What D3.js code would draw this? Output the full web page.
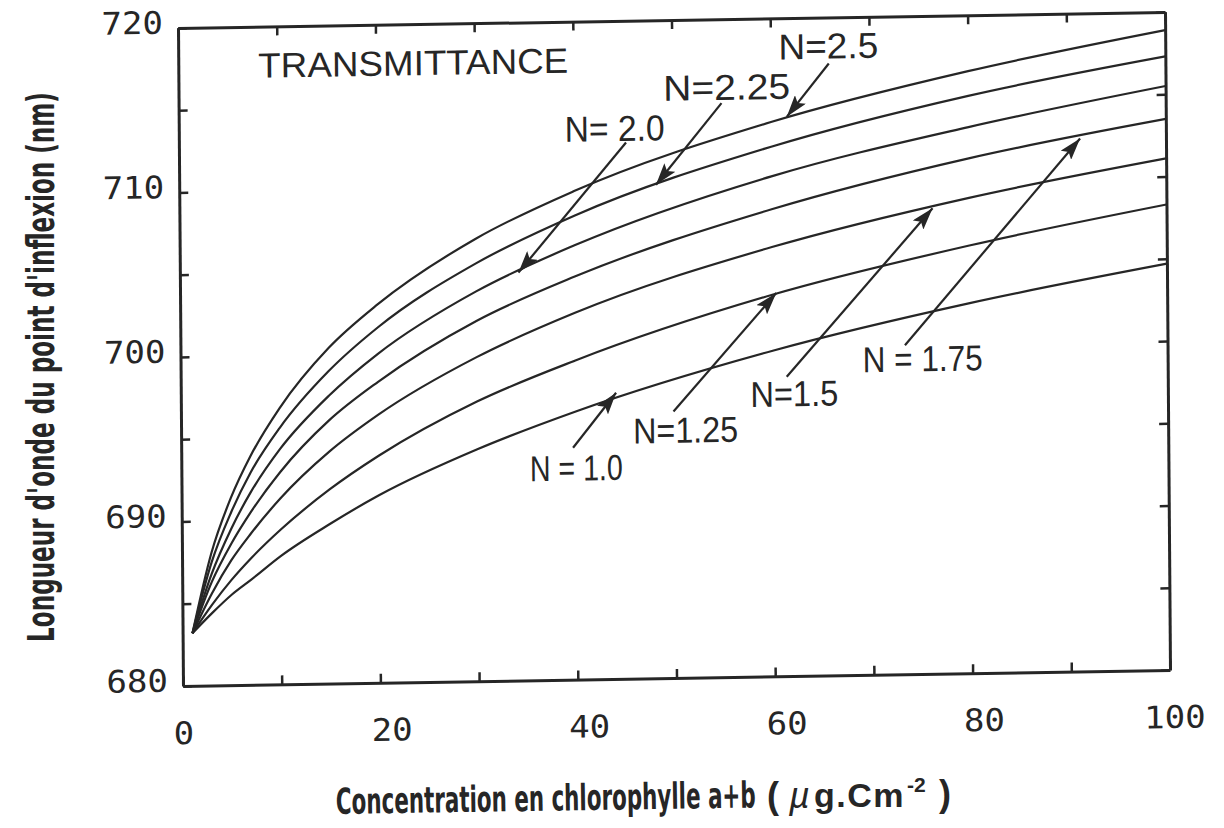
<!DOCTYPE html>
<html><head><meta charset="utf-8">
<script src="https://cdn.jsdelivr.net/npm/d3@7"></script>
<style>body{margin:0;background:#fff;} svg{display:block;background:#fff;}</style>
</head><body><svg id="c" width="1224" height="828"></svg>
<script>
// ---- data ----
const concentration = [1, 3, 5, 7, 10, 15, 20, 30, 40, 60, 80, 100];
const seriesNames = ["N=1.0", "N=1.25", "N=1.5", "N=1.75", "N=2.0", "N=2.25", "N=2.5"];
const wl_N100 = [683.2, 684.4, 685.5, 686.4, 687.8, 689.7, 691.4, 694.1, 696.3, 699.8, 702.5, 704.7];
const wl_N125 = [683.2, 684.9, 686.4, 687.7, 689.4, 691.8, 693.8, 697.0, 699.4, 703.2, 706.0, 708.3];
const wl_N150 = [683.2, 685.6, 687.6, 689.2, 691.3, 694.1, 696.3, 699.7, 702.3, 706.1, 708.9, 711.1];
const wl_N175 = [683.2, 686.3, 688.6, 690.5, 692.9, 696.0, 698.3, 701.9, 704.5, 708.4, 711.3, 713.5];
const wl_N200 = [683.2, 686.8, 689.5, 691.7, 694.3, 697.5, 700.0, 703.7, 706.4, 710.4, 713.2, 715.5];
const wl_N225 = [683.2, 687.5, 690.5, 692.9, 695.6, 699.0, 701.6, 705.4, 708.2, 712.2, 715.1, 717.3];
const wl_N250 = [683.2, 688.1, 691.4, 693.9, 696.8, 700.4, 703.0, 706.9, 709.7, 713.7, 716.6, 718.9];
const allSeries = [wl_N100, wl_N125, wl_N150, wl_N175, wl_N200, wl_N225, wl_N250];

const xTicks = [0, 10, 20, 30, 40, 50, 60, 70, 80, 90, 100];
const xTickLabels = [0, 20, 40, 60, 80, 100];
const yTicks = [680, 685, 690, 695, 700, 705, 710, 715, 720];
const yTickLabels = [680, 690, 700, 710, 720];

// annotation labels and arrows (data coordinates)
const annLabels = ["N=2.5", "N=2.25", "N= 2.0", "N = 1.0", "N=1.25", "N=1.5", "N = 1.75"];
const annTextX  = [60.8, 49.1, 39.1, 35.3, 45.8, 57.7, 69.1];
const annTextY  = [717.5, 715.1, 712.7, 692.1, 694.3, 696.4, 698.4];
const annFromX  = [65.9, 55.0, 45.3, 39.7, 49.9, 61.4, 73.4];
const annFromY  = [717.2, 714.9, 712.6, 694.1, 696.2, 698.2, 700.0];
const annToX    = [61.6, 48.3, 34.3, 44.1, 60.4, 76.3, 91.3];
const annToY    = [714.0, 710.0, 704.8, 697.4, 703.3, 708.3, 712.4];
const annWidth  = [100, 127, 100, 93, 105, 88, 120];

// ---- drawing ----
const W = 987, H = 658;
const ink = "#262626";
const svg = d3.select("#c");
svg.append("defs").append("marker")
  .attr("id", "ah").attr("viewBox", "0 0 10 10").attr("refX", 10).attr("refY", 5)
  .attr("markerWidth", 22).attr("markerHeight", 14).attr("markerUnits", "userSpaceOnUse")
  .attr("preserveAspectRatio", "none").attr("orient", "auto")
  .append("path").attr("d", "M0,0L10,5L0,10L2,5Z").attr("fill", ink);

// slight skew of the scanned figure
const g = svg.append("g").attr("transform", "matrix(1,-0.0162,0.0076,1,183,686)");
const x = d3.scaleLinear().domain([0, 100]).range([0, W]);
const y = d3.scaleLinear().domain([680, 720]).range([0, -H]);

function styleAxis(sel) {
  sel.select(".domain").attr("stroke", ink).attr("stroke-width", 3);
  sel.selectAll(".tick line").attr("stroke", ink).attr("stroke-width", 2.5);
  sel.selectAll(".tick text").attr("fill", ink)
    .style("font-family", "'DejaVu Sans Mono', 'Liberation Mono', monospace")
    .style("font-size", "31px")
    .attr("lengthAdjust", "spacingAndGlyphs")
    .attr("textLength", function () { const t = this.textContent; return t ? t.length * 20.5 : null; });
}

const fmtX = d => xTickLabels.includes(d) ? String(d) : "";
const fmtY = d => yTickLabels.includes(d) ? String(d) : "";

const xb = g.append("g").call(d3.axisBottom(x).tickValues(xTicks).tickSizeInner(-9).tickSizeOuter(0).tickPadding(36).tickFormat(fmtX));
styleAxis(xb);
xb.selectAll(".tick text").attr("dx", d => d === 0 ? 0 : (d === 100 ? 4 : 11));

const xt = g.append("g").attr("transform", `translate(0,${-H})`)
  .call(d3.axisTop(x).tickValues(xTicks).tickSizeInner(-9).tickSizeOuter(0).tickFormat(""));
styleAxis(xt);

const yl = g.append("g").call(d3.axisLeft(y).tickValues(yTicks).tickSizeInner(-9).tickSizeOuter(0).tickPadding(15).tickFormat(fmtY));
styleAxis(yl);
yl.selectAll(".tick text").attr("y", -5);

const yr = g.append("g").attr("transform", `translate(${W},0)`)
  .call(d3.axisRight(y).tickValues(yTicks).tickSizeInner(-9).tickSizeOuter(0).tickFormat(""));
styleAxis(yr);

// curves
const line = d3.line().x((d, i) => x(concentration[i])).y(d => y(d)).curve(d3.curveMonotoneX);
g.append("g").selectAll("path").data(allSeries).join("path")
  .attr("d", line).attr("fill", "none").attr("stroke", ink).attr("stroke-width", 2.2)
  .attr("stroke-linejoin", "round");

// arrows
g.append("g").selectAll("line").data(annLabels).join("line")
  .attr("x1", (d, i) => x(annFromX[i])).attr("y1", (d, i) => y(annFromY[i]))
  .attr("x2", (d, i) => x(annToX[i])).attr("y2", (d, i) => y(annToY[i]))
  .attr("stroke", ink).attr("stroke-width", 2.2).attr("marker-end", "url(#ah)");

// labels
g.append("g").selectAll("text").data(annLabels).join("text")
  .attr("x", (d, i) => x(annTextX[i])).attr("y", (d, i) => y(annTextY[i]))
  .attr("textLength", (d, i) => annWidth[i]).attr("lengthAdjust", "spacingAndGlyphs")
  .attr("fill", ink).style("font-family", "'Liberation Sans', Arial, sans-serif").style("font-size", "36px")
  .text(d => d);

// panel title
g.append("text").attr("x", x(8.1)).attr("y", y(716.9))
  .attr("textLength", 310).attr("lengthAdjust", "spacingAndGlyphs")
  .attr("fill", ink).style("font-family", "'Liberation Sans', Arial, sans-serif").style("font-size", "35px")
  .text("TRANSMITTANCE");

// axis titles (condensed by a horizontal scale so the box is exact)
const condensed = "'Liberation Sans Narrow', 'DejaVu Sans Condensed', 'Liberation Sans', sans-serif";
function fitText(sel, target, pre, post) {
  const len = sel.node().getComputedTextLength();
  const s = len > 0 ? target / len : 1;
  sel.attr("transform", `${pre} scale(${s},1) ${post || ""}`);
}
const yTitle = svg.append("text").attr("text-anchor", "middle")
  .attr("fill", ink).style("font-family", condensed).style("font-weight", "bold").style("font-size", "37px")
  .text("Longueur d'onde du point d'inflexion (nm)");
fitText(yTitle, 550, "translate(54,367) rotate(-90)");

const xTitle = svg.append("text").attr("x", 0).attr("y", 0)
  .attr("fill", ink).style("font-family", condensed).style("font-weight", "bold").style("font-size", "36px")
  .text("Concentration en chlorophylle a+b");
fitText(xTitle, 420, "translate(336,814) rotate(-0.9)");

const unitFont = "'Liberation Sans', Arial, sans-serif";
svg.append("text").attr("x", 767).attr("y", 808).attr("fill", ink)
  .style("font-family", unitFont).style("font-weight", "bold").style("font-size", "36px").text("(");
svg.append("text").attr("x", 789).attr("y", 808).attr("fill", ink)
  .style("font-family", unitFont).style("font-style", "italic").style("font-size", "36px").text("µ");
svg.append("text").attr("x", 814).attr("y", 807).attr("fill", ink)
  .style("font-family", unitFont).style("font-weight", "bold").style("font-size", "34px")
  .style("letter-spacing", "1.5px").text("g.Cm");
svg.append("text").attr("x", 907).attr("y", 792).attr("fill", ink)
  .style("font-family", unitFont).style("font-weight", "bold").style("font-size", "21px").text("-2");
svg.append("text").attr("x", 939).attr("y", 806).attr("fill", ink)
  .style("font-family", unitFont).style("font-weight", "bold").style("font-size", "36px").text(")");
</script>
</body></html>
